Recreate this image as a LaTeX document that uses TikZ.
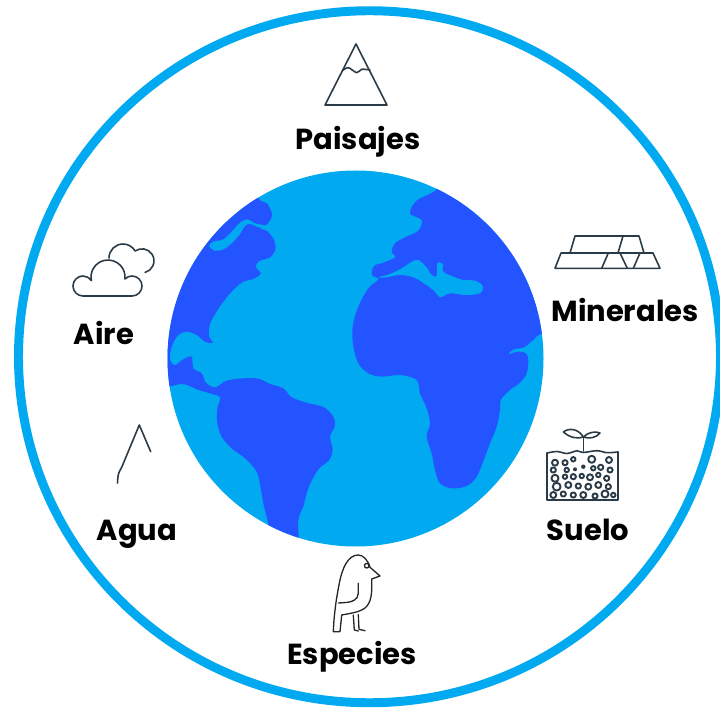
\documentclass[tikz,border=0pt]{standalone}
\usepackage{fontspec}
\setmainfont{Poppins}
\definecolor{oceano}{HTML}{00A9F0}
\definecolor{tierra}{HTML}{2454FF}
\definecolor{trazo}{HTML}{2A3A46}
\tikzset{
 etiqueta/.style={font=\fontsize{16.5}{19}\selectfont\bfseries, anchor=base, inner sep=0pt},
 icono/.style={draw=trazo, line width=0.9pt, line join=round, line cap=round},
 fino/.style={draw=black!85, line width=0.75pt, line join=round, line cap=round},
}
\newcommand{\recurso}[3]{%
 \node[etiqueta] (#1) at (#2) {#3};%
}

\begin{document}
\begin{tikzpicture}[x=0.02cm,y=-0.02cm]
 \useasboundingbox (0,0) rectangle (720,709);
 \draw[oceano,line width=5.1pt] (369.5,356.75) ellipse [x radius=351, y radius=346];
 % globo
 \fill[oceano] (355.5,358.5) circle (188);
 \begin{scope}
  \clip (355.5,358.5) circle (188);
  \begin{scope}[shift={(160,160)},scale=1/3]
   \fill[tierra] plot[smooth cycle, tension=0.55] coordinates {
    (-40,300) (60,150) (200,80) (290,60) (295,115) (322,132) (336,165) (322,192)
    (300,205) (322,214) (342,240) (346,268) (330,292) (296,304) (288,322) (302,340)
    (282,356) (248,366) (215,395) (190,425) (168,458) (150,492) (147,528) (158,548)
    (135,545) (110,525) (80,515) (55,525) (35,560) (30,600) (45,615) (70,598)
    (95,590) (100,625) (125,640) (138,668) (165,682) (200,662) (250,655) (295,656)
    (330,672) (370,685) (395,712) (440,728) (492,742) (520,770) (524,800) (510,830)
    (518,870) (508,900) (478,925) (455,962) (440,1000) (430,1040) (415,1080)
    (410,1180) (330,1180) (325,1095) (312,1040) (302,985) (290,935) (255,895)
    (215,865) (185,830) (172,790) (172,745) (180,712) (150,700) (110,688) (70,672)
    (-40,655)};
   \fill[tierra] plot[smooth cycle, tension=0.55] coordinates {
    (830,40) (830,88) (770,122) (750,160) (785,180) (775,212) (735,232) (705,250)
    (695,275) (705,292) (670,308) (642,318) (636,345) (655,358) (625,385) (595,440)
    (578,500) (580,560) (595,610) (625,640) (665,650) (720,645) (770,660) (780,700)
    (800,745) (810,790) (800,830) (815,880) (825,930) (840,970) (875,985) (920,978)
    (950,950) (975,890) (990,850) (1010,800) (1020,750) (1022,720) (1050,690)
    (1080,668) (1100,640) (1105,600) (1098,580) (1075,575) (1045,582) (1062,568)
    (1092,562) (1120,540) (1150,520) (1250,520) (1250,40)};
   % mares interiores
   \fill[oceano] plot[smooth cycle, tension=0.55] coordinates {
    (345,205) (300,203) (270,192) (255,198) (240,222) (215,250) (190,268) (165,272)
    (148,258) (160,245) (190,238) (215,215) (240,188) (262,178) (285,190) (310,195)};
   \fill[oceano] plot[smooth cycle, tension=0.55] coordinates {
    (655,352) (690,342) (730,322) (755,305) (775,300) (798,320) (815,345) (830,348)
    (832,310) (848,312) (850,335) (880,350) (910,360) (945,362) (968,378) (960,400)
    (915,405) (870,400) (840,412) (825,395) (795,372) (760,352) (720,345) (680,352)};
  \end{scope}
 \end{scope}

 % paisajes
 \draw[icono] (325,105) -- (356,44) -- (387,105) -- cycle;
 \draw[icono] plot[smooth, tension=0.5] coordinates {(342.3,70.7) (348.3,67.7) (356.7,72.7) (361.7,69.3) (370,70)};
 \recurso{paisajes}{358,150}{Paisajes}

 % minerales
 \draw[icono] (575,236) -- (639,236) -- (644,253) -- (570,253) -- cycle;
 \draw[icono] (623,236) -- (618,253);
 \draw[icono] (561,253) -- (653,253) -- (660,268.3) -- (555,268.3) -- cycle;
 \draw[icono] (608.3,253) -- (601.7,268.3) (620,253) -- (627.3,268.3) (640,253) -- (633.3,268.3);
 \recurso{minerales}{625,322}{Minerales}

 % aire
 \draw[icono] (83,296) arc[start angle=90, end angle=327.3, radius=10]
  arc[start angle=167.8, end angle=366.6, radius=17]
  arc[start angle=224.8, end angle=450, radius=10] -- cycle;
 \draw[icono] (109,258) arc[start angle=180, end angle=330, radius=14]
  arc[start angle=235, end angle=435, radius=12];
 \recurso{aire}{104,345}{Aire}

 % agua
 \draw[icono] (150.7,451.7) -- (139.3,425) -- (121.7,467.3) .. controls (118,474) .. (117.5,483);
 \recurso{agua}{137,540}{Agua}

 % suelo
 \draw[icono] (547,453) -- (547,500) -- (618,500) -- (618,452);
 \draw[icono] plot[smooth, tension=0.5] coordinates {(547,453) (557,451.5) (567,453.5) (577,450.8) (583,452.5) (597,450.7) (607,452.7) (618,452)};
 \draw[icono] (583.3,451) -- (583.3,437);
 \draw[icono] (583.3,437) .. controls (578,428) and (568,428) .. (563.5,432) .. controls (570,438) and (578,439) .. (583.3,437);
 \draw[icono] (583.3,437) .. controls (588,432) and (596,431) .. (600,433) .. controls (596,438) and (589,439) .. (583.3,437);
 \foreach \px/\py/\r in {555/462.7/2.3, 565/462.7/2, 573.3/459.3/1.7, 591.7/459.3/2.7, 609/460/2.3,
   553.3/470/2, 566.7/470/1.7, 593.3/468.3/1.7, 600.7/467.3/2, 610/470/2,
   555/478.3/2.7, 565/476.7/1.7, 573.3/476.7/2, 581.7/476/1.7, 590/477.3/2.3, 598.3/475/1.7, 606.7/478.3/2,
   556.7/486.7/3, 568.3/485/2.3, 578.3/486/2, 588.3/486.7/2.3, 598.3/485/2.3, 608.3/486.7/2,
   553.3/495/2.3, 563.3/494/2, 573.3/495/2, 583.3/495/2.3, 595/496/2, 605/494/2.7, 613.3/495/1.7}
  \draw[icono, line width=1.1pt] (\px,\py) circle ({1.3*\r});
 \fill[trazo] (575,469.3) circle (2) (583.3,466.7) circle (2.2);
 \recurso{suelo}{588,540}{Suelo}

 % especies
 \draw[fino] (340,631.7) -- (341.7,615) .. controls (352,613) and (362,612) .. (367,606)
  .. controls (372,600) and (372,590) .. (371.7,579) -- (380,576) -- (370,567.3)
  .. controls (368,560) and (363,555) .. (358.3,555)
  .. controls (348,555) and (342,568) .. (339,585)
  .. controls (336,600) and (334,615) .. (333.3,631.7) -- cycle;
 \draw[fino] (366.7,565.7) circle (2.3);
 \draw[fino] (358.3,583.3) -- (358.3,593.3) .. controls (358,600) and (352,602) .. (346,602.5) -- (338.5,603);
 \draw[fino] (353.3,615) -- (354.3,630) -- (358.3,631);
 \draw[fino] (358.3,614.5) -- (359,629.3) -- (365,630.7);
 \recurso{especies}{352,664}{Especies}
\end{tikzpicture}
\end{document}
